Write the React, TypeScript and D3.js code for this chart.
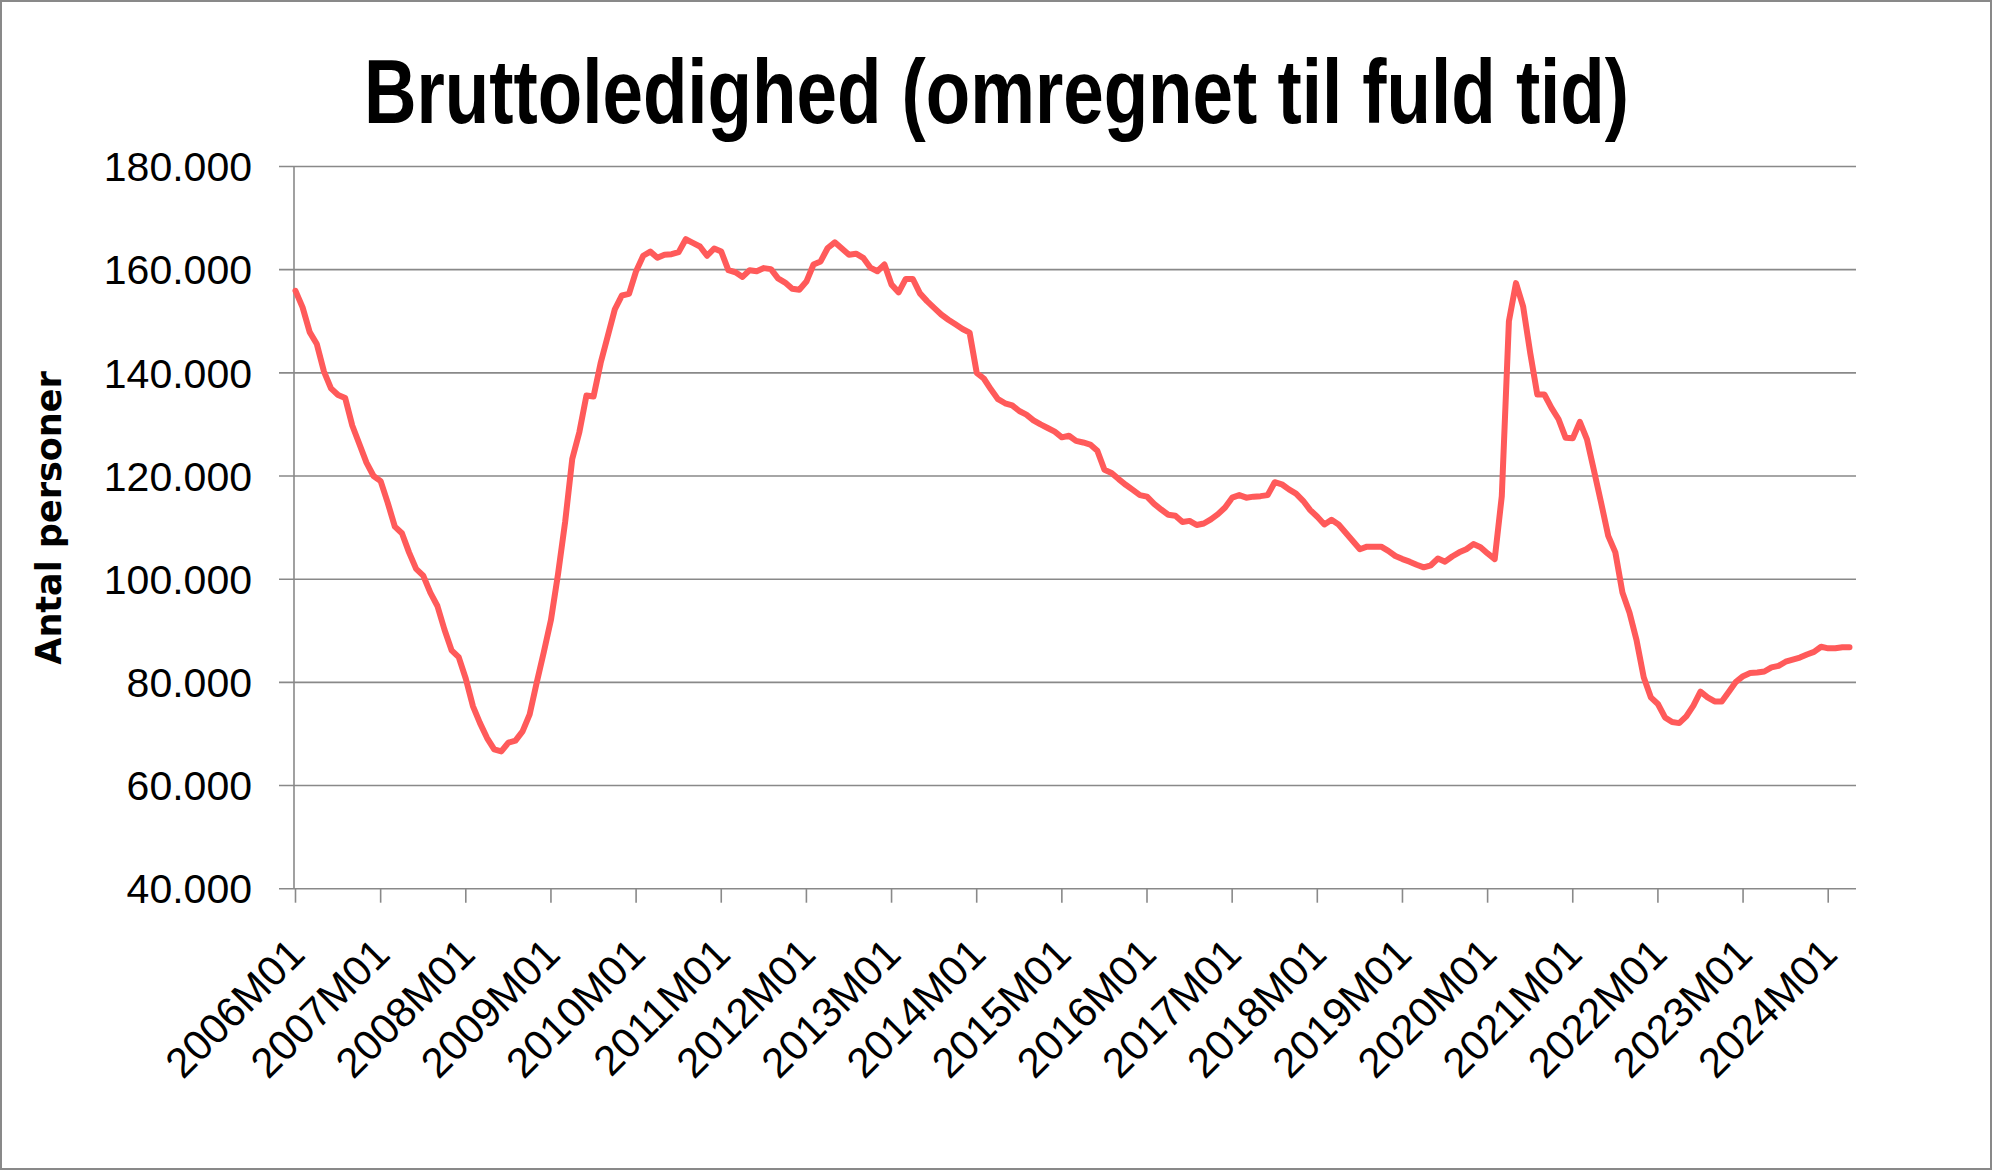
import { useRef, useEffect } from 'react';
import * as d3 from 'd3';

// Bruttoledighed, monthly, 2006M01 - 2024M04 (persons)
const bruttoledige = [
  // 2006
  155900, 152700, 147900, 145600, 140300, 137000, 135700, 135100, 129800, 126200, 122600, 120000,
  // 2007
  119000, 114800, 110200, 108900, 105200, 102000, 100700, 97400, 94800, 90200, 86200, 84900,
  // 2008
  80700, 75400, 72100, 69200, 67000, 66600, 68300, 68700, 70500, 73800, 80000, 85900,
  // 2009
  92100, 101000, 111100, 123300, 128500, 135600, 135400, 141900, 147100, 152300, 155000, 155300,
  // 2010
  159700, 162700, 163500, 162300, 162900, 163000, 163400, 165900, 165200, 164500, 162700, 164100,
  // 2011
  163500, 159900, 159500, 158600, 159900, 159700, 160300, 160100, 158300, 157500, 156300, 156100,
  // 2012
  157700, 161000, 161600, 164200, 165300, 164100, 162900, 163100, 162300, 160400, 159700, 161000,
  // 2013
  157100, 155600, 158200, 158200, 155400, 153900, 152600, 151300, 150300, 149400, 148500, 147800,
  // 2014
  140000, 138900, 136800, 134900, 134100, 133700, 132600, 131900, 130800, 130000, 129300, 128600,
  // 2015
  127500, 127800, 126800, 126500, 126100, 124900, 121200, 120600, 119400, 118300, 117300, 116300,
  // 2016
  116000, 114600, 113500, 112500, 112300, 111100, 111300, 110500, 110800, 111600, 112600, 113900,
  // 2017
  115800, 116300, 115800, 116000, 116100, 116300, 118800, 118400, 117400, 116600, 115200, 113400,
  // 2018
  112100, 110600, 111500, 110600, 109000, 107400, 105800, 106300, 106300, 106300, 105500, 104500,
  // 2019
  103900, 103400, 102800, 102300, 102700, 104000, 103400, 104400, 105200, 105800, 106800, 106200,
  // 2020
  105000, 103900, 116100, 150000, 157400, 152900, 143900, 135800, 135800, 133200, 131000, 127400,
  // 2021
  127300, 130500, 127100, 121000, 114800, 108400, 105200, 97400, 93500, 88100, 81000, 77100,
  // 2022
  75800, 73200, 72300, 72100, 73400, 75500, 78200, 77100, 76300, 76300, 78200, 80100,
  // 2023
  81200, 81800, 81900, 82100, 82900, 83200, 84000, 84400, 84800, 85400, 85900, 86900,
  // 2024
  86600, 86600, 86800, 86800,
];

const firstYear = 2006;
const monthLabels = bruttoledige.map((_, i) => {
  const y = firstYear + Math.floor(i / 12);
  const m = (i % 12) + 1;
  return `${y}M${m < 10 ? '0' + m : m}`;
});

const xTickLabels = [
  '2006M01', '2007M01', '2008M01', '2009M01', '2010M01', '2011M01', '2012M01',
  '2013M01', '2014M01', '2015M01', '2016M01', '2017M01', '2018M01', '2019M01',
  '2020M01', '2021M01', '2022M01', '2023M01', '2024M01',
];

const yTicks = [40000, 60000, 80000, 100000, 120000, 140000, 160000, 180000];

const title = 'Bruttoledighed (omregnet til fuld tid)';
const yTitle = 'Antal personer';

const W = 1993;
const H = 1171;

export default function App() {
  const svgRef = useRef<SVGSVGElement>(null);

  useEffect(() => {
    if (!svgRef.current) return;
    const svg = d3.select(svgRef.current);
    svg.selectAll('*').remove();

    const plot = { left: 294, right: 1856, top: 166.5, bottom: 888.7 };
    const grid = '#898989';

    const danish = d3.formatLocale({
      decimal: ',',
      thousands: '.',
      grouping: [3],
      currency: ['', ' kr.'],
    });
    const fmt = danish.format(',d');

    const x = d3.scalePoint<string>()
      .domain(monthLabels)
      .range([295.5, 1849.5]);

    const y = d3.scaleLinear()
      .domain([40000, 180000])
      .range([plot.bottom, plot.top]);

    svg.append('rect')
      .attr('width', W)
      .attr('height', H)
      .attr('fill', '#fff');

    // outer frame
    svg.append('rect')
      .attr('x', 1)
      .attr('y', 1)
      .attr('width', W - 3)
      .attr('height', H - 3)
      .attr('fill', 'none')
      .attr('stroke', grid)
      .attr('stroke-width', 2);

    // title
    svg.append('text')
      .attr('x', 996.5)
      .attr('y', 122.5)
      .attr('text-anchor', 'middle')
      .attr('font-family', '"Liberation Sans", Arial, sans-serif')
      .attr('font-weight', 'bold')
      .attr('font-size', 90)
      .attr('textLength', 1265)
      .attr('lengthAdjust', 'spacingAndGlyphs')
      .attr('fill', '#000')
      .text(title);

    // horizontal gridlines + outward ticks
    svg.append('g')
      .selectAll('line')
      .data(yTicks)
      .enter()
      .append('line')
      .attr('x1', plot.left - 15)
      .attr('x2', plot.right)
      .attr('y1', d => y(d))
      .attr('y2', d => y(d))
      .attr('stroke', grid)
      .attr('stroke-width', 1.6);

    // y axis line
    svg.append('line')
      .attr('x1', plot.left)
      .attr('x2', plot.left)
      .attr('y1', plot.top)
      .attr('y2', plot.bottom)
      .attr('stroke', grid)
      .attr('stroke-width', 1.6);

    // y tick labels
    svg.append('g')
      .selectAll('text')
      .data(yTicks)
      .enter()
      .append('text')
      .attr('x', 252)
      .attr('y', d => y(d))
      .attr('dy', '0.36em')
      .attr('text-anchor', 'end')
      .attr('font-family', '"Liberation Sans", Arial, sans-serif')
      .attr('font-size', 41)
      .attr('fill', '#000')
      .text(d => fmt(d));

    // y title
    svg.append('text')
      .attr('transform', `translate(61,518) rotate(-90)`)
      .attr('text-anchor', 'middle')
      .attr('font-family', '"DejaVu Sans", Verdana, sans-serif')
      .attr('font-weight', 'bold')
      .attr('font-size', 35)
      .attr('fill', '#000')
      .text(yTitle);

    // x tick marks
    svg.append('g')
      .selectAll('line')
      .data(xTickLabels)
      .enter()
      .append('line')
      .attr('x1', d => x(d)!)
      .attr('x2', d => x(d)!)
      .attr('y1', plot.bottom)
      .attr('y2', plot.bottom + 14)
      .attr('stroke', grid)
      .attr('stroke-width', 1.6);

    // x tick labels
    svg.append('g')
      .selectAll('text')
      .data(xTickLabels)
      .enter()
      .append('text')
      .attr('transform', d => `translate(${x(d)! + 1},946) rotate(-45)`)
      .attr('dy', '0.35em')
      .attr('text-anchor', 'end')
      .attr('font-family', '"Liberation Sans", Arial, sans-serif')
      .attr('font-size', 42)
      .attr('fill', '#000')
      .text(d => d);

    // series line
    const line = d3.line<number>()
      .x((_, i) => x(monthLabels[i])!)
      .y(d => y(d));

    svg.append('path')
      .datum(bruttoledige)
      .attr('d', line)
      .attr('fill', 'none')
      .attr('stroke', '#ff5a5a')
      .attr('stroke-width', 6)
      .attr('stroke-linejoin', 'round')
      .attr('stroke-linecap', 'round');
  }, []);

  return (
    <svg
      ref={svgRef}
      width={W}
      height={H}
      style={{ position: 'absolute', left: 0, top: 0, display: 'block' }}
    />
  );
}
